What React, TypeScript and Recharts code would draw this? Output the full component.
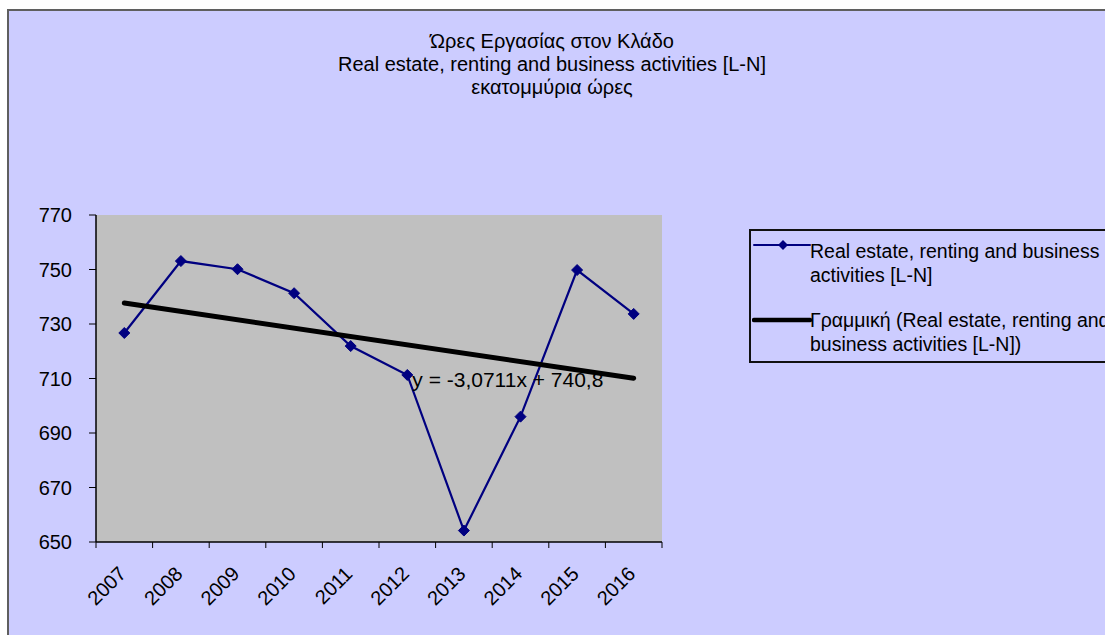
import React from "react";
import {
  CartesianGrid,
  Legend,
  Line,
  LineChart,
  ReferenceDot,
  XAxis,
  YAxis,
} from "recharts";

const years = ["2007", "2008", "2009", "2010", "2011", "2012", "2013", "2014", "2015", "2016"];
const hours = [726.7, 753.1, 750.1, 741.3, 721.9, 711.3, 654.2, 696.0, 749.8, 733.7];
// trend line read at its two ends (first and last year)
const trend = [737.7, null, null, null, null, null, null, null, null, 710.1];
const yTicks = [650, 670, 690, 710, 730, 750, 770];

const titleLines = [
  "Ώρες Εργασίας στον Κλάδο",
  "Real estate, renting and business activities [L-N]",
  "εκατομμύρια ώρες",
];
const seriesName = "Real estate, renting and business activities [L-N]";
const trendName = "Γραμμική (Real estate, renting and business activities [L-N])";
const trendLabel = "y = -3,0711x + 740,8";

const FONT = "'Liberation Sans', Arial, sans-serif";
const W = 1105;
const H = 635;
const MARGIN = { top: 215, right: 443, bottom: 33, left: 36 };
const PLOT_W = W - MARGIN.left - 60 - MARGIN.right;
const BAND = PLOT_W / years.length;

const data = years.map((year, i) => ({ year, hours: hours[i], trend: trend[i] }));

function Diamond(props: any) {
  const { cx, cy } = props;
  if (cx == null || cy == null) return null;
  const r = 5.5;
  return (
    <polygon
      points={`${cx},${cy - r} ${cx + r},${cy} ${cx},${cy + r} ${cx - r},${cy}`}
      fill="#000080"
      stroke="#000080"
    />
  );
}

function YearTick(props: any) {
  const { x, y, payload, index } = props;
  const half = BAND / 2;
  const ax = x + 3;
  const ay = y + 33;
  return (
    <g>
      <line x1={x - half} x2={x - half} y1={y} y2={y + 6} stroke="#000" />
      {index === years.length - 1 && (
        <line x1={x + half} x2={x + half} y1={y} y2={y + 6} stroke="#000" />
      )}
      <text
        x={ax}
        y={ay}
        transform={`rotate(-45 ${ax} ${ay})`}
        textAnchor="end"
        fontSize={20}
        fontFamily={FONT}
        fill="#000"
      >
        {payload.value}
      </text>
    </g>
  );
}

function LegendBox(props: any) {
  const payload = props.payload || [];
  const rows = [
    { top: 10, lineY: 16 },
    { top: 79, lineY: 91 },
  ];
  return (
    <div
      style={{
        position: "relative",
        width: 400,
        height: 134,
        border: "2px solid #111",
        boxSizing: "border-box",
        fontFamily: FONT,
        fontSize: 19.5,
        lineHeight: "24px",
        color: "#000",
        textAlign: "left",
      }}
    >
      {payload.map((p: any, i: number) => {
        const isTrend = p.dataKey === "trend";
        const row = rows[i] || rows[0];
        return (
          <div key={i}>
            <svg
              width={60}
              height={12}
              style={{ position: "absolute", left: 1, top: row.lineY - 6 - 2 }}
            >
              <line
                x1={2}
                x2={58}
                y1={6}
                y2={6}
                stroke={isTrend ? "#000" : "#000080"}
                strokeWidth={isTrend ? 4.5 : 2}
                strokeLinecap="round"
              />
              {!isTrend && (
                <polygon points="31,1 36,6 31,11 26,6" fill="#000080" />
              )}
            </svg>
            <div style={{ position: "absolute", left: 59, top: row.top - 2, width: 320 }}>
              {p.value}
            </div>
          </div>
        );
      })}
    </div>
  );
}

export default function App() {
  return (
    <div
      style={{
        position: "fixed",
        left: 0,
        top: 0,
        width: W,
        height: H,
        overflow: "hidden",
        background: "#fff",
      }}
    >
      <div
        style={{
          position: "absolute",
          left: 7,
          top: 9,
          width: 1200,
          height: 700,
          background: "#CCCCFF",
          borderLeft: "2px solid #5f5f5f",
          borderTop: "2px solid #5f5f5f",
        }}
      />
      <div
        style={{
          position: "absolute",
          left: 0,
          top: 30,
          width: 1104,
          textAlign: "center",
          fontFamily: FONT,
          fontSize: 20,
          lineHeight: "23px",
          color: "#000",
        }}
      >
        {titleLines.map((t) => (
          <div key={t}>{t}</div>
        ))}
      </div>
      <div style={{ position: "absolute", left: 0, top: 0 }}>
        <LineChart width={W} height={H} data={data} margin={MARGIN}>
          <CartesianGrid fill="#C0C0C0" horizontal={false} vertical={false} />
          <XAxis
            dataKey="year"
            scale="band"
            height={60}
            interval={0}
            tickSize={0}
            tickMargin={0}
            tickLine={false}
            axisLine={{ stroke: "#000", strokeWidth: 1.5 }}
            tick={<YearTick />}
          />
          <XAxis
            xAxisId="top"
            orientation="top"
            dataKey="year"
            scale="band"
            height={0}
            tick={false}
            tickLine={false}
            axisLine={{ stroke: "#808080", strokeWidth: 2.5 }}
          />
          <YAxis
            domain={[650, 770]}
            ticks={yTicks}
            width={60}
            tickSize={7}
            tickMargin={17}
            interval={0}
            axisLine={{ stroke: "#000", strokeWidth: 1.5 }}
            tickLine={{ stroke: "#000" }}
            tick={{ fill: "#000", fontSize: 20, fontFamily: FONT }}
          />
          <YAxis
            yAxisId="right"
            orientation="right"
            width={0}
            tick={false}
            tickLine={false}
            axisLine={{ stroke: "#808080", strokeWidth: 2.5 }}
          />
          <Legend
            layout="horizontal"
            verticalAlign="middle"
            align="center"
            content={<LegendBox />}
            wrapperStyle={{ position: "absolute", left: 749, top: 229, width: 400 }}
          />
          <Line
            dataKey="hours"
            name={seriesName}
            stroke="#000080"
            strokeWidth={2.2}
            dot={<Diamond />}
            activeDot={false}
            isAnimationActive={false}
          />
          <Line
            dataKey="trend"
            name={trendName}
            stroke="#000"
            strokeWidth={5}
            strokeLinecap="round"
            connectNulls
            dot={false}
            activeDot={false}
            isAnimationActive={false}
          />
          <ReferenceDot
            x="2012"
            y={707}
            r={1}
            fill="none"
            stroke="none"
            ifOverflow="visible"
            label={(p: any) => (
              <text
                x={p.viewBox.x + 6}
                y={p.viewBox.y + 1}
                fontSize={21}
                fontFamily={FONT}
                fill="#000"
              >
                {trendLabel}
              </text>
            )}
          />
        </LineChart>
      </div>
    </div>
  );
}
